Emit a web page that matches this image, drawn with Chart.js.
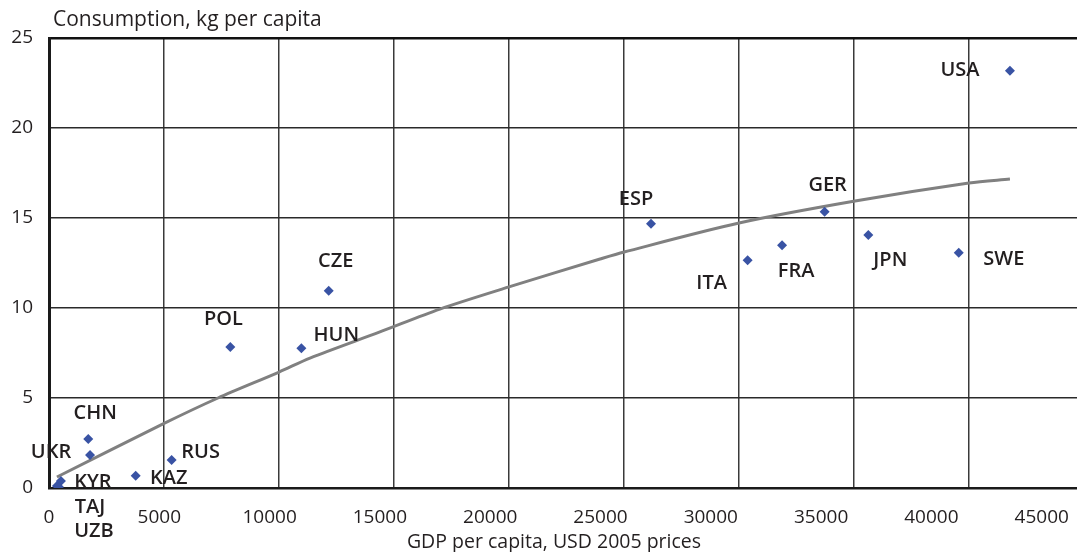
<!DOCTYPE html>
<html>
<head>
<meta charset="utf-8">
<script src="https://cdn.jsdelivr.net/npm/chart.js@4/dist/chart.umd.min.js"></script>
<style>
  html, body { margin: 0; padding: 0; background: #ffffff; }
  #wrap { width: 1077px; height: 552px; }
</style>
</head>
<body>
<div id="wrap"><canvas id="chart" width="1077" height="552"></canvas></div>
<script>
// Country observations: GDP per capita (USD, 2005 prices) and consumption (kg per capita)
const countries = ['USA', 'GER', 'ESP', 'ITA', 'FRA', 'JPN', 'SWE', 'CZE', 'POL', 'HUN',
                   'CHN', 'UKR', 'RUS', 'KAZ', 'KYR', 'TAJ', 'UZB'];
const gdpPerCapita = [43560, 35160, 27290, 31670, 33230, 37140, 41240, 12680, 8220, 11440,
                      1780, 1860, 5560, 3930, 540, 360, 450];
const consumption = [23.18, 15.35, 14.68, 12.65, 13.48, 14.06, 13.07, 10.96, 7.83, 7.76,
                     2.72, 1.83, 1.56, 0.68, 0.39, 0.11, 0.06];

// Fitted trend curve
const trendGdp = [360, 5170, 7660, 10430, 11830, 15000, 17720, 20850, 24980, 26070,
                  31280, 36540, 41700, 43560];
const trendConsumption = [0.61, 3.56, 5.0, 6.44, 7.22, 8.67, 9.94, 11.17, 12.72, 13.11,
                          14.72, 15.94, 16.94, 17.17];

// Axis ticks
const xTicks = [0, 5000, 10000, 15000, 20000, 25000, 30000, 35000, 40000, 45000];
const yTicks = [0, 5, 10, 15, 20, 25];
const xGridLines = [5000, 10000, 15000, 20000, 25000, 30000, 35000, 40000];

const yTitle = 'Consumption, kg per capita';
const xTitle = 'GDP per capita, USD 2005 prices';

// Label placement around each marker (pixel offsets of the text centre)
const labelOffsets = {
  USA: [-50, 0], GER: [3, -26], ESP: [-15, -24], ITA: [-36, 23], FRA: [14, 26],
  JPN: [22, 25], SWE: [45, 7], CZE: [7, -29], POL: [-7, -28], HUN: [35, -13],
  CHN: [7, -26], UKR: [-39, -3], RUS: [29, -8], KAZ: [33, 3], KYR: [32, 1],
  TAJ: [33, 21], UZB: [35, 44]
};

const FONT = "'Open Sans', 'DejaVu Sans', sans-serif";
const TEXT = '#231f20';

const countryLabels = {
  id: 'countryLabels',
  afterDatasetsDraw(chart) {
    const ctx = chart.ctx;
    const meta = chart.getDatasetMeta(1);
    ctx.save();
    ctx.font = '600 20px ' + FONT;
    ctx.fillStyle = TEXT;
    ctx.textAlign = 'center';
    ctx.textBaseline = 'middle';
    meta.data.forEach((pt, i) => {
      const name = countries[i];
      const off = labelOffsets[name] || [0, -20];
      ctx.fillText(name, pt.x + off[0], pt.y + off[1]);
    });
    ctx.restore();
  }
};

const axisTitles = {
  id: 'axisTitles',
  afterDraw(chart) {
    const ctx = chart.ctx;
    const area = chart.chartArea;
    ctx.save();
    ctx.fillStyle = TEXT;
    ctx.textBaseline = 'middle';
    ctx.textAlign = 'left';
    ctx.font = '500 21px ' + FONT;
    ctx.fillText(yTitle, area.left + 4, 20);
    ctx.textAlign = 'center';
    ctx.font = '500 19.5px ' + FONT;
    ctx.fillText(xTitle, 554, 542);
    ctx.restore();
  }
};

new Chart(document.getElementById('chart'), {
  data: {
    datasets: [
      {
        type: 'line',
        label: 'Trend',
        data: trendGdp.map((x, i) => ({ x: x, y: trendConsumption[i] })),
        borderColor: '#808080',
        borderWidth: 3,
        pointRadius: 0,
        tension: 0.3,
        fill: false,
        xAxisID: 'x',
        yAxisID: 'y',
        order: 2
      },
      {
        type: 'scatter',
        label: 'Countries',
        data: gdpPerCapita.map((x, i) => ({ x: x, y: consumption[i] })),
        backgroundColor: '#3953a4',
        borderColor: '#3953a4',
        borderWidth: 0,
        pointStyle: 'rectRot',
        pointRadius: 5,
        pointHoverRadius: 5,
        xAxisID: 'x',
        yAxisID: 'y',
        order: 1
      }
    ]
  },
  options: {
    responsive: false,
    animation: false,
    devicePixelRatio: 1,
    // the plot runs right up to the canvas edge
    layout: { autoPadding: false, padding: { top: 38, left: 0, right: 0, bottom: 0 } },
    plugins: {
      legend: { display: false },
      tooltip: { enabled: false },
      title: { display: false }
    },
    scales: {
      x: {
        type: 'linear',
        position: 'bottom',
        min: 0,
        max: 46600,
        afterBuildTicks: (s) => { s.ticks = xTicks.map(v => ({ value: v })); },
        afterFit: (s) => { s.height = 64; s.paddingRight = 0; },
        grid: { display: false, drawTicks: false },
        border: { display: true, color: '#1a1a1a', width: 2.5 },
        ticks: {
          padding: 18,
          color: TEXT,
          font: { family: FONT, size: 19, weight: '500' },
          maxRotation: 0,
          autoSkip: false,
          callback: (v) => String(v)
        }
      },
      xGrid: {
        type: 'linear',
        position: 'bottom',
        min: 0,
        max: 44696,
        afterBuildTicks: (s) => { s.ticks = xGridLines.map(v => ({ value: v })); },
        afterFit: (s) => { s.height = 0; s.paddingRight = 0; s.paddingLeft = 0; },
        grid: { display: true, drawTicks: false, color: '#3a3a3a', lineWidth: 1.5 },
        border: { display: false },
        ticks: { display: false }
      },
      y: {
        type: 'linear',
        min: 0,
        max: 25,
        afterBuildTicks: (s) => { s.ticks = yTicks.map(v => ({ value: v })); },
        afterFit: (s) => { s.width = 49; },
        grid: {
          drawTicks: false,
          color: (c) => (c.tick && c.tick.value === 25 ? '#111111' : '#2a2a2a'),
          lineWidth: (c) => (c.tick && c.tick.value === 25 ? 2.5 : 1.5)
        },
        border: { display: true, color: '#1a1a1a', width: 3 },
        ticks: {
          padding: 16,
          color: TEXT,
          font: { family: FONT, size: 19, weight: '500' },
          callback: (v) => String(v)
        }
      }
    }
  },
  plugins: [countryLabels, axisTitles]
});
</script>
</body>
</html>
